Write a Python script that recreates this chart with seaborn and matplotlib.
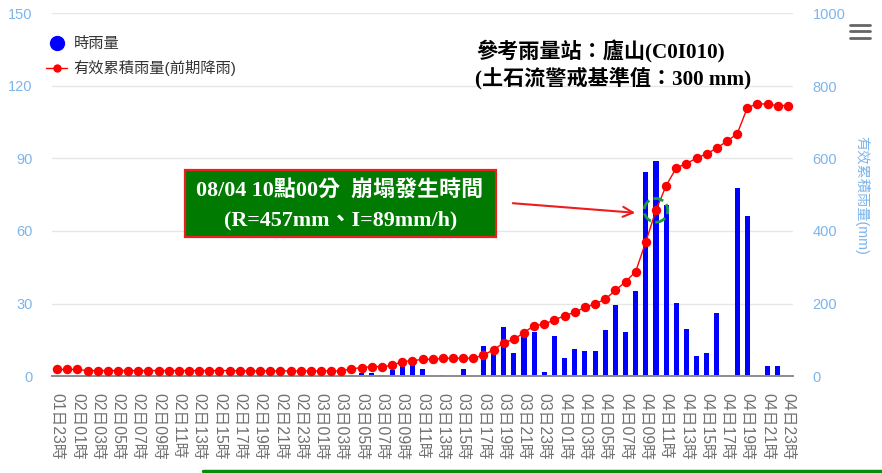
import numpy as np
import pandas as pd
import matplotlib
import matplotlib.pyplot as plt
import seaborn as sns
from matplotlib.lines import Line2D
from matplotlib.patches import Rectangle

matplotlib.use("Agg")

# --- data (hourly, 01日23時 .. 04日23時) ---
hourly_rain = [
    0, 0, 0, 0, 0, 0, 0, 0, 0, 0,
    0, 0, 0, 0, 0, 0, 0, 0, 0, 0,
    0, 0, 0, 0, 0, 0, 0, 0, 0, 0.6,
    1.2, 1.2, 0.6, 2.3, 4.4, 4.4, 2.7, 0, 0.6, 0,
    2.7, 0, 12.3, 8.9, 20.2, 9.5, 17.5, 18.4, 1.7, 16.5,
    7.4, 11.3, 10.3, 10.3, 19.1, 29.2, 18.4, 35.1, 84.4, 89,
    70.6, 30.3, 19.3, 8.2, 9.5, 26.2, 0, 77.6, 66.1, 0,
    4.3, 4.3, 0,
]
effective_rain = [
    18, 18, 18, 15, 15, 15, 15, 15, 15, 15,
    15, 15, 15, 15, 15, 15, 15, 15, 14, 14,
    14, 14, 14, 14, 14, 14, 14, 14, 14, 20,
    23, 26, 26, 29, 40, 42, 46, 46, 49, 49,
    49, 49, 58, 72, 92, 101, 120, 139, 143, 155,
    166, 176, 189, 199, 212, 236, 260, 288, 370, 457,
    525, 574, 586, 601, 613, 629, 648, 668, 740, 751,
    750, 746, 746,
]
tick_labels = [
    "01日23時",
    "02日01時", "02日03時", "02日05時", "02日07時", "02日09時", "02日11時",
    "02日13時", "02日15時", "02日17時", "02日19時", "02日21時", "02日23時",
    "03日01時", "03日03時", "03日05時", "03日07時", "03日09時", "03日11時",
    "03日13時", "03日15時", "03日17時", "03日19時", "03日21時", "03日23時",
    "04日01時", "04日03時", "04日05時", "04日07時", "04日09時", "04日11時",
    "04日13時", "04日15時", "04日17時", "04日19時", "04日21時", "04日23時",
]
collapse_idx = 59  # 04日10時

df = pd.DataFrame({"pos": np.arange(len(hourly_rain)), "rain": hourly_rain, "eff": effective_rain})

sns.set_style("white")
plt.rcParams["font.family"] = ["Liberation Sans", "Noto Sans CJK TC"]

W, H = 882, 473
fig = plt.figure(figsize=(W / 100, H / 100), dpi=100)
ax = fig.add_axes([52 / W, 1 - 376 / H, (793 - 52) / W, (376 - 13.5) / H])
ax2 = ax.twinx()

axis_blue = "#7cb5ec"

sns.barplot(data=df, x="pos", y="rain", native_scale=True, width=0.5,
            color="#0000ff", saturation=1, linewidth=0, ax=ax, zorder=2)
sns.lineplot(data=df, x="pos", y="eff", ax=ax2, color="#ff0000", lw=1,
             marker="o", markersize=6.8, markeredgewidth=0, zorder=3)
ax2.scatter([collapse_idx], [effective_rain[collapse_idx]], s=290, facecolors="none",
            edgecolors="#1e9b3c", linewidths=2, linestyles="--", zorder=4)

ax.set_xlim(-0.5, len(hourly_rain) - 0.5)
ax.set_ylim(0, 150)
ax2.set_ylim(0, 1000)
ax.set_yticks(range(0, 151, 30))
ax2.set_yticks(range(0, 1001, 200))
ax.set_xticks(df["pos"][::2])
ax.set_xticklabels(tick_labels, rotation=-90, fontsize=11.3, color="#707070")
ax.tick_params(axis="x", length=0, pad=12)
ax.tick_params(axis="y", length=0, pad=14, labelsize=10.5, labelcolor=axis_blue)
ax2.tick_params(axis="y", length=0, pad=14, labelsize=10.5, labelcolor=axis_blue)
ax.set_xlabel("")
ax.set_ylabel("")
ax2.set_ylabel("")

ax.grid(axis="y", color="#e6e6e6", lw=1)
ax.grid(axis="x", visible=False)
ax2.grid(False)
for a in (ax, ax2):
    for s in ("left", "right", "top"):
        a.spines[s].set_visible(False)
    a.spines["bottom"].set_color("#8c8c8c")
    a.spines["bottom"].set_linewidth(1.2)

fig.text(862 / W, 1 - 195 / H, "有效累積雨量(mm)", rotation=-90, ha="center", va="center",
         fontsize=10.3, color=axis_blue)

# legend
handles = [
    Line2D([], [], ls="", marker="o", color="#0000ff", markersize=10),
    Line2D([], [], color="#ff0000", lw=1, marker="o", markersize=6, markeredgewidth=0),
]
fig.legend(handles, ["時雨量", "有效累積雨量(前期降雨)"], loc="upper left",
           bbox_to_anchor=(46 / W, 1 - 37 / H), bbox_transform=fig.transFigure,
           frameon=False, fontsize=11, labelcolor="#333333", handlelength=1.4,
           handletextpad=0.4, labelspacing=0.62, borderpad=0, borderaxespad=0)

serif = ["Liberation Serif", "Noto Sans CJK TC"]
fig.text(476 / W, 1 - 52 / H, "參考雨量站：廬山(C0I010)", ha="left", va="center",
         fontsize=15.2, fontweight="bold", family=serif, color="black")
fig.text(475 / W, 1 - 78 / H, "(土石流警戒基準值：300 mm)", ha="left", va="center",
         fontsize=15.2, fontweight="bold", family=serif, color="black")

# annotation box
fig.patches.append(Rectangle((185 / W, 1 - 237 / H), (496 - 185) / W, (237 - 170) / H,
                             transform=fig.transFigure, facecolor="#007a00",
                             edgecolor="#e8201f", lw=1.6, zorder=5))
fig.text(340 / W, 1 - 191 / H, "08/04 10點00分  崩塌發生時間", ha="center", va="center",
         fontsize=15.8, fontweight="bold", family=serif, color="white", zorder=6)
fig.text(341 / W, 1 - 220 / H, "(R=457mm、I=89mm/h)", ha="center", va="center",
         fontsize=15.8, fontweight="bold", family=serif, color="white", zorder=6)
ax.annotate("", xy=(638 / W, 1 - 213 / H), xycoords="figure fraction",
            xytext=(510 / W, 1 - 203 / H), textcoords="figure fraction",
            arrowprops=dict(arrowstyle="->", color="#ee1c1c", lw=1.5,
                            mutation_scale=18))

# menu icon
for yy in (25, 31.5, 38):
    fig.add_artist(Line2D([850 / W, 870 / W], [1 - yy / H, 1 - yy / H],
                          transform=fig.transFigure, color="#666666", lw=2))
# green rule at the bottom
fig.add_artist(Line2D([203 / W, 1.0], [1 - 471 / H, 1 - 471 / H],
                      transform=fig.transFigure, color="#0a8a0a", lw=2.5))

fig.savefig("out.png", dpi=100)
plt.close(fig)
